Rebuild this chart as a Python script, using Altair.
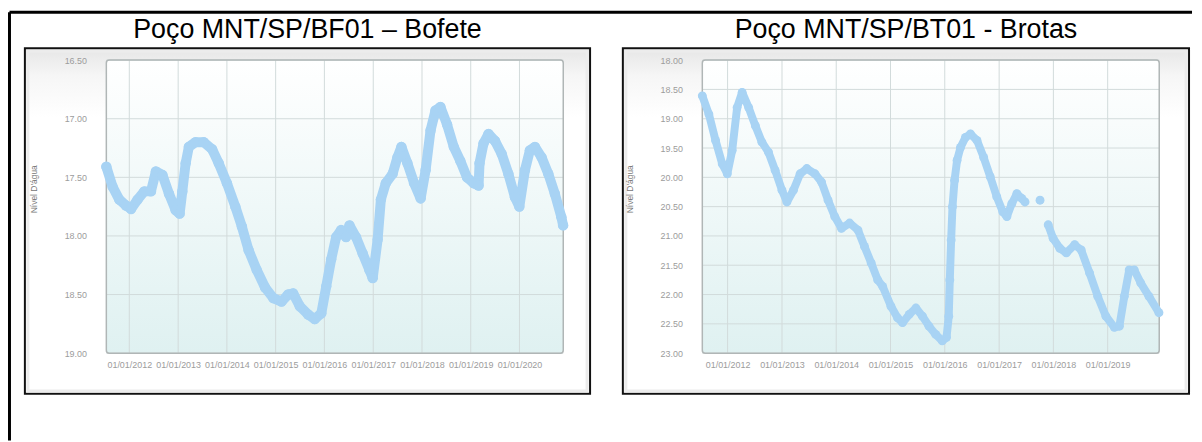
import altair as alt
import pandas as pd

# ---------------- data ----------------
titles = ["Poço MNT/SP/BF01 – Bofete", "Poço MNT/SP/BT01 - Brotas"]
y_title = "Nível D'água"

bf_dates = [
    "2011-07-13", "2011-08-29", "2011-10-18", "2011-12-07", "2012-01-14", "2012-03-03", "2012-04-22", "2012-06-11", "2012-07-18", "2012-09-05",
    "2012-10-24", "2012-12-13", "2013-01-12", "2013-02-01", "2013-02-26", "2013-03-22", "2013-05-11", "2013-07-12", "2013-09-12", "2013-11-01",
    "2014-01-01", "2014-03-05", "2014-04-23", "2014-06-12", "2014-08-12", "2014-10-14", "2014-12-14", "2015-02-14", "2015-04-05", "2015-05-12",
    "2015-07-01", "2015-09-01", "2015-10-21", "2015-12-09", "2016-01-15", "2016-02-21", "2016-03-29", "2016-05-05", "2016-06-11", "2016-07-07",
    "2016-08-25", "2016-10-14", "2016-12-03", "2016-12-28", "2017-02-03", "2017-02-27", "2017-04-05", "2017-05-26", "2017-07-01", "2017-07-31",
    "2017-09-14", "2017-11-03", "2017-12-22", "2018-01-28", "2018-03-06", "2018-04-12", "2018-05-19", "2018-07-08", "2018-08-27", "2018-10-15",
    "2018-12-04", "2019-01-23", "2019-03-01", "2019-03-08", "2019-04-07", "2019-05-14", "2019-07-02", "2019-08-21", "2019-10-10", "2019-11-28",
    "2019-12-31", "2020-02-11", "2020-03-19", "2020-04-26", "2020-06-15", "2020-08-04", "2020-09-22", "2020-11-10", "2020-11-23",
]
bf_levels = [
    17.41, 17.58, 17.69, 17.74, 17.77, 17.69, 17.62, 17.62, 17.45, 17.48,
    17.64, 17.78, 17.81, 17.62, 17.38, 17.24, 17.20, 17.20, 17.26, 17.38,
    17.55, 17.75, 17.92, 18.12, 18.29, 18.44, 18.53, 18.56, 18.50, 18.49,
    18.60, 18.67, 18.71, 18.66, 18.43, 18.20, 18.01, 17.95, 18.01, 17.91,
    18.01, 18.15, 18.29, 18.36, 18.03, 17.69, 17.55, 17.47, 17.33, 17.24,
    17.38, 17.55, 17.68, 17.44, 17.10, 16.93, 16.90, 17.05, 17.24, 17.36,
    17.50, 17.55, 17.57, 17.38, 17.21, 17.13, 17.19, 17.30, 17.47, 17.67,
    17.75, 17.44, 17.27, 17.24, 17.33, 17.47, 17.64, 17.84, 17.91,
]
bf_segments = ["a"] * len(bf_levels)

bt_dates = [
    "2011-07-15", "2011-08-28", "2011-10-12", "2011-11-26", "2011-12-30", "2012-02-01", "2012-03-05", "2012-04-08", "2012-05-22", "2012-07-06",
    "2012-08-19", "2012-10-02", "2012-11-16", "2013-01-01", "2013-02-03", "2013-03-19", "2013-05-03", "2013-06-17", "2013-08-11", "2013-09-24",
    "2013-11-07", "2013-12-22", "2014-02-05", "2014-04-01", "2014-05-27", "2014-07-10", "2014-08-24", "2014-10-07", "2014-11-09", "2015-01-04",
    "2015-02-18", "2015-03-23", "2015-05-07", "2015-06-21", "2015-08-04", "2015-09-17", "2015-11-01", "2015-12-15", "2016-01-13", "2016-01-28",
    "2016-02-04", "2016-02-13", "2016-02-22", "2016-03-07", "2016-03-24", "2016-04-16", "2016-05-19", "2016-06-22", "2016-08-05", "2016-09-19",
    "2016-11-02", "2016-12-16", "2017-01-26", "2017-02-22", "2017-03-27", "2017-04-30", "2017-06-02", "2017-06-24", "2017-10-03", "2017-11-27",
    "2017-12-30", "2018-02-13", "2018-03-29", "2018-05-24", "2018-07-07", "2018-09-01", "2018-10-26", "2018-12-20", "2019-02-15", "2019-03-21",
    "2019-04-23", "2019-05-26", "2019-06-29", "2019-08-11", "2019-10-06", "2019-12-12",
]
bt_levels = [
    18.61, 18.92, 19.37, 19.77, 19.94, 19.54, 18.81, 18.55, 18.81, 19.12,
    19.40, 19.57, 19.88, 20.22, 20.42, 20.22, 19.94, 19.85, 19.94, 20.08,
    20.39, 20.67, 20.87, 20.78, 20.90, 21.18, 21.46, 21.75, 21.86, 22.20,
    22.40, 22.48, 22.34, 22.23, 22.37, 22.54, 22.68, 22.79, 22.73, 22.37,
    21.75, 21.07, 20.50, 20.05, 19.71, 19.49, 19.32, 19.26, 19.37, 19.66,
    19.99, 20.33, 20.59, 20.67, 20.45, 20.28, 20.36, 20.42, 20.39, 20.81,
    21.04, 21.21, 21.29, 21.15, 21.24, 21.63, 22.03, 22.37, 22.56, 22.54,
    22.03, 21.58, 21.58, 21.80, 22.03, 22.31,
]
bt_segments = ["a"] * 58 + ["b"] + ["c"] * 17

bf_year_ticks = [2012, 2013, 2014, 2015, 2016, 2017, 2018, 2019, 2020]
bt_year_ticks = [2012, 2013, 2014, 2015, 2016, 2017, 2018, 2019]
bf_level_ticks = [16.5, 17.0, 17.5, 18.0, 18.5, 19.0]
bt_level_ticks = [18.0, 18.5, 19.0, 19.5, 20.0, 20.5, 21.0, 21.5, 22.0, 22.5, 23.0]
bf_date_domain = [(2011, 7, 13), (2020, 11, 24)]
bt_date_domain = [(2011, 7, 15), (2019, 12, 14)]
bf_level_domain = [16.5, 19.0]
bt_level_domain = [18.0, 23.0]

# ---------------- style ----------------
W, H = 460, 295
FONT = "Liberation Sans"
POINT_COLOR = "#a8d3f4"
LABEL_COLOR = "#9c9c9c"
one = pd.DataFrame({"k": [0]})


def grad(stops):
    return alt.Gradient(
        gradient="linear",
        stops=[alt.GradientStop(color=c, offset=o) for o, c in stops],
        x1=0, x2=0, y1=0, y2=1,
    )


def panel(title, dates, levels, segs, year_ticks, level_ticks, date_domain,
          level_domain, box_x, title_x, line_w, pt_size, outer=False):
    dt = lambda y, m, d: alt.DateTime(year=y, month=m, date=d, utc=True)
    xscale = alt.Scale(type="utc", domain=[dt(*date_domain[0]), dt(*date_domain[1])])
    yscale = alt.Scale(domain=level_domain, reverse=True, nice=False, zero=False)
    x_enc = alt.X(
        "date:T", scale=xscale, title=None,
        axis=alt.Axis(values=[dt(y, 1, 1) for y in year_ticks], format="%d/%m/%Y",
                      labelFont=FONT, labelFontSize=9, labelColor=LABEL_COLOR,
                      labelPadding=7, domain=False, ticks=False, grid=False,
                      labelFlush=False, labelOverlap=False, zindex=1),
    )
    y_enc = alt.Y(
        "level:Q", scale=yscale, title=None,
        axis=alt.Axis(values=level_ticks, format=".2f", labelFont=FONT,
                      labelFontSize=9, labelColor=LABEL_COLOR, labelPadding=20,
                      domain=False, ticks=False, grid=False, zindex=1),
    )

    box = alt.Chart(one).mark_rect(
        fill=grad([(0, "#e6e6e6"), (0.08, "#f6f6f6"), (0.2, "#ffffff"), (1, "#ffffff")]),
        stroke="#111111", strokeWidth=2,
    ).encode(x=alt.value(box_x[0]), x2=alt.value(box_x[1]), y=alt.value(-12), y2=alt.value(336))
    inner = alt.Chart(one).mark_rect(
        fillOpacity=0, stroke="#ececec", strokeWidth=3,
    ).encode(x=alt.value(box_x[0] + 3), x2=alt.value(box_x[1] - 3), y=alt.value(-9), y2=alt.value(333))
    plot_bg = alt.Chart(one).mark_rect(
        fill=grad([(0, "#ffffff"), (1, "#dff1f1")]), cornerRadius=3,
    ).encode(x=alt.value(0), x2=alt.value(W), y=alt.value(0), y2=alt.value(H))

    xgrid = alt.Chart(pd.DataFrame({"date": [f"{y}-01-01" for y in year_ticks]})).mark_rule(
        color="#d2dbdb", strokeWidth=1).encode(x=x_enc)
    ygrid = alt.Chart(pd.DataFrame({"level": level_ticks})).mark_rule(
        color="#d2dbdb", strokeWidth=1).encode(y=y_enc)
    frame = alt.Chart(one).mark_rect(
        fillOpacity=0, stroke="#b0b6b6", strokeWidth=1.5, cornerRadius=3,
    ).encode(x=alt.value(0), x2=alt.value(W), y=alt.value(0), y2=alt.value(H))

    df = pd.DataFrame({"date": dates, "level": levels, "seg": segs})
    line = alt.Chart(df).mark_line(
        color=POINT_COLOR, strokeWidth=line_w, strokeCap="round", strokeJoin="round",
    ).encode(x=x_enc, y=y_enc, detail="seg:N")
    pts = alt.Chart(df).mark_circle(color=POINT_COLOR, size=pt_size, opacity=1).encode(x=x_enc, y=y_enc)

    ttl = alt.Chart(pd.DataFrame({"t": [title]})).mark_text(
        font=FONT, fontSize=27, color="#000000", align="center", baseline="alphabetic",
    ).encode(x=alt.value(title_x), y=alt.value(-22), text="t:N")
    ytl = alt.Chart(pd.DataFrame({"t": [y_title]})).mark_text(
        font=FONT, fontSize=8.5, color="#777777", align="center", baseline="middle", angle=270,
    ).encode(x=alt.value(-73), y=alt.value(130), text="t:N")

    layers = [box, inner, plot_bg, xgrid, ygrid, frame, line, pts, ttl, ytl]
    if outer:
        top = alt.Chart(one).mark_rule(color="#000000", strokeWidth=3).encode(
            x=alt.value(-97.5), x2=alt.value(1093), y=alt.value(-48.2))
        left = alt.Chart(one).mark_rule(color="#000000", strokeWidth=3).encode(
            x=alt.value(-97.5), y=alt.value(-48.2), y2=alt.value(383))
        layers += [top, left]
    return alt.layer(*layers).properties(width=W, height=H)


left_panel = panel(titles[0], bf_dates, bf_levels, bf_segments, bf_year_ticks,
                   bf_level_ticks, bf_date_domain, bf_level_domain,
                   box_x=(-82, 487), title_x=202.5, line_w=10, pt_size=110, outer=True)
right_panel = panel(titles[1], bt_dates, bt_levels, bt_segments, bt_year_ticks,
                    bt_level_ticks, bt_date_domain, bt_level_domain,
                    box_x=(-80, 490), title_x=205, line_w=8, pt_size=80)

chart = alt.hconcat(left_panel, right_panel, spacing=140, bounds="flush").properties(
    padding={"left": 0, "top": 1, "right": 0, "bottom": 0},
    background="#ffffff",
).configure_view(strokeWidth=0)

chart.save("out.html", embed_options={"renderer": "svg", "actions": False})
